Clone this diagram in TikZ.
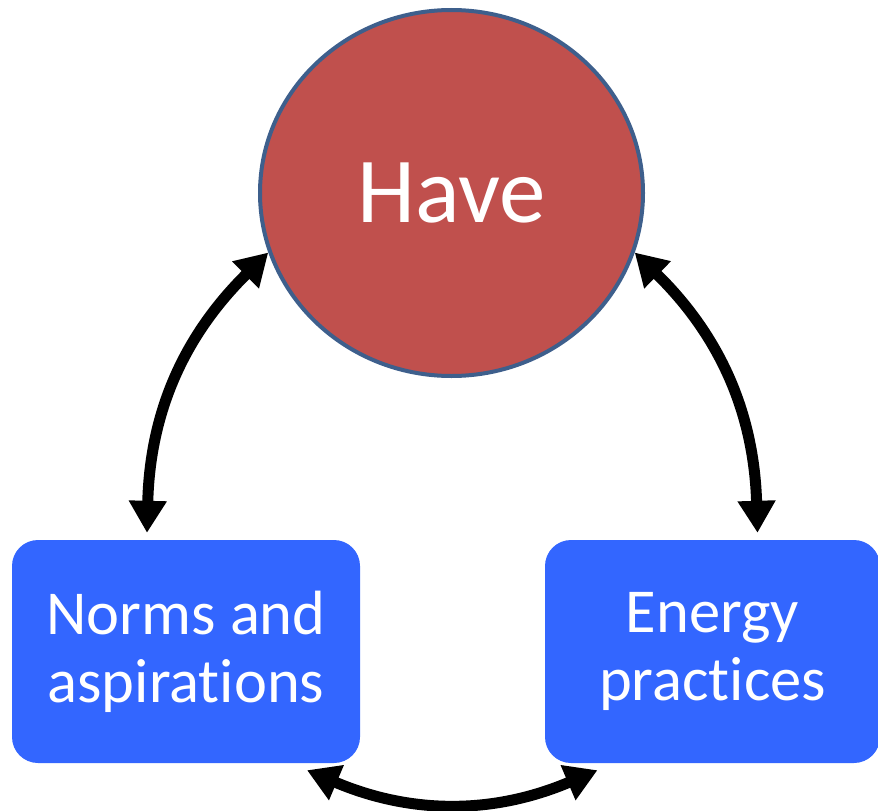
\documentclass[tikz,border=0pt]{standalone}
\usepackage{fontspec}
\setmainfont{Carlito}[Ligatures=NoCommon]
\usetikzlibrary{arrows.meta,shapes.geometric}
\definecolor{haveRed}{HTML}{C0504D}
\definecolor{haveEdge}{HTML}{3E5F8C}
\definecolor{boxBlue}{HTML}{3366FF}
\tikzset{
  bigcircle/.style={ellipse, fill=haveRed, draw=haveEdge, line width=4pt,
    minimum width=383pt, minimum height=366pt, inner sep=0pt, text=white,
    font=\fontsize{93}{100}\selectfont},
  bluebox/.style={rectangle, rounded corners=26pt, fill=boxBlue, inner sep=0pt,
    text=white, align=center, font=\fontsize{62.5}{68}\selectfont,
    minimum height=223pt},
  link/.style={line width=11pt, {Triangle[length=32pt,width=36pt]}-{Triangle[length=32pt,width=36pt]}}
}
\begin{document}
\begin{tikzpicture}[x=1pt,y=-1pt]
\useasboundingbox (0,0) rectangle (878,811);
\node[bigcircle] (have) at (451.5,193) {Have};
\node[bluebox, minimum width=348pt] (norms) at (186,651.5) {Norms and\\aspirations};
\node[bluebox, minimum width=335pt] (energy) at (712.5,651.5) {Energy\\practices};
\draw[link] ([xshift=-39pt,yshift=7pt]norms.north) to[bend left=22] (have.198);
\draw[link] (have.342) to[bend left=22] ([xshift=45pt,yshift=7pt]energy.north);
\draw[link] ([xshift=121pt,yshift=-7pt]norms.south) to[bend right=23] ([xshift=-115pt,yshift=-7pt]energy.south);
\end{tikzpicture}
\end{document}
